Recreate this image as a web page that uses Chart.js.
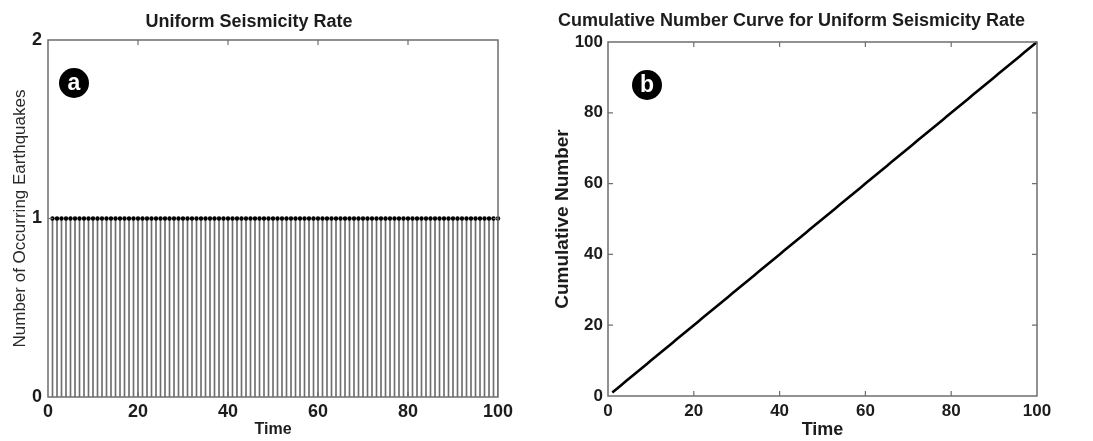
<!DOCTYPE html>
<html>
<head>
<meta charset="utf-8">
<script src="https://cdn.jsdelivr.net/npm/chart.js@4/dist/chart.umd.min.js"></script>
<style>
html,body{margin:0;padding:0;background:#fff;}
#wrap{position:relative;width:1093px;height:441px;overflow:hidden;background:#fff;}
canvas{position:absolute;top:0;}
#c1{left:0;}
#c2{left:546px;}
.badge{position:absolute;width:30px;height:30px;border-radius:50%;background:#000;color:#fff;font:bold 23px "Liberation Sans",Arial,sans-serif;text-align:center;line-height:29px;}
</style>
</head>
<body>
<div id="wrap">
<canvas id="c1" width="546" height="441"></canvas>
<canvas id="c2" width="547" height="441"></canvas>
<div class="badge" style="left:59px;top:68px;">a</div>
<div class="badge" style="left:632px;top:70px;">b</div>
</div>
<script>
// ---- data ----
const timeSteps = [1,2,3,4,5,6,7,8,9,10,11,12,13,14,15,16,17,18,19,20,21,22,23,24,25,26,27,28,29,30,31,32,33,34,35,36,37,38,39,40,41,42,43,44,45,46,47,48,49,50,51,52,53,54,55,56,57,58,59,60,61,62,63,64,65,66,67,68,69,70,71,72,73,74,75,76,77,78,79,80,81,82,83,84,85,86,87,88,89,90,91,92,93,94,95,96,97,98,99,100];
const quakeCounts = [1,1,1,1,1,1,1,1,1,1,1,1,1,1,1,1,1,1,1,1,1,1,1,1,1,1,1,1,1,1,1,1,1,1,1,1,1,1,1,1,1,1,1,1,1,1,1,1,1,1,1,1,1,1,1,1,1,1,1,1,1,1,1,1,1,1,1,1,1,1,1,1,1,1,1,1,1,1,1,1,1,1,1,1,1,1,1,1,1,1,1,1,1,1,1,1,1,1,1,1];
const cumulativeCounts = [1,2,3,4,5,6,7,8,9,10,11,12,13,14,15,16,17,18,19,20,21,22,23,24,25,26,27,28,29,30,31,32,33,34,35,36,37,38,39,40,41,42,43,44,45,46,47,48,49,50,51,52,53,54,55,56,57,58,59,60,61,62,63,64,65,66,67,68,69,70,71,72,73,74,75,76,77,78,79,80,81,82,83,84,85,86,87,88,89,90,91,92,93,94,95,96,97,98,99,100];
const timeTicks = [0,20,40,60,80,100];
const rateTicks = [0,1,2];
const cumTicks = [0,20,40,60,80,100];

const FONT = '"Liberation Sans", Arial, sans-serif';
const TXT = '#1c1c1c';

const framePlugin = {
  id: 'frame',
  afterDatasetsDraw(chart) {
    const {ctx, chartArea: a, scales: {x, y}} = chart;
    ctx.save();
    ctx.strokeStyle = '#6e6e6e';
    ctx.lineWidth = 1.5;
    ctx.strokeRect(a.left, a.top, a.right - a.left, a.bottom - a.top);
    ctx.lineWidth = 1.2;
    const L = 5;
    ctx.beginPath();
    x.ticks.forEach(t => {
      const px = x.getPixelForValue(t.value);
      if (px <= a.left + 1 || px >= a.right - 1) return;
      ctx.moveTo(px, a.bottom); ctx.lineTo(px, a.bottom - L);
      ctx.moveTo(px, a.top); ctx.lineTo(px, a.top + L);
    });
    y.ticks.forEach(t => {
      const py = y.getPixelForValue(t.value);
      if (py <= a.top + 1 || py >= a.bottom - 1) return;
      ctx.moveTo(a.left, py); ctx.lineTo(a.left + L, py);
      ctx.moveTo(a.right, py); ctx.lineTo(a.right - L, py);
    });
    ctx.stroke();
    ctx.restore();
  }
};

function tickSetter(arr) { return s => { s.ticks = arr.map(v => ({value: v})); }; }

// ---- chart a ----
new Chart(document.getElementById('c1'), {
  type: 'bar',
  data: {
    datasets: [
      {
        type: 'line',
        data: timeSteps.map((t, i) => ({x: t, y: quakeCounts[i]})),
        showLine: false,
        pointRadius: 2.2,
        pointBackgroundColor: '#000',
        pointBorderColor: '#000',
        pointBorderWidth: 0,
        clip: false,
        order: 0
      },
      {
        type: 'bar',
        data: timeSteps.map((t, i) => ({x: t, y: quakeCounts[i]})),
        backgroundColor: '#6f6f6f',
        barThickness: 1,
        borderWidth: 0,
        order: 1
      }
    ]
  },
  options: {
    responsive: false,
    animation: false,
    layout: {padding: {top: 0, right: 48, bottom: 0, left: 0}},
    plugins: {
      legend: {display: false},
      tooltip: {enabled: false},
      title: {
        display: true,
        text: 'Uniform Seismicity Rate',
        color: TXT,
        font: {family: FONT, size: 18, weight: 'bold'},
        padding: {top: 11, bottom: 7.4}
      }
    },
    scales: {
      x: {
        type: 'linear', min: 0, max: 100, offset: false,
        afterBuildTicks: tickSetter(timeTicks),
        afterFit: s => { s.height = 44; },
        grid: {display: false, drawTicks: false, offset: false},
        border: {display: false},
        ticks: {color: TXT, font: {family: FONT, size: 18, weight: 'bold'}, padding: 4, maxRotation: 0, autoSkip: false},
        title: {display: true, text: 'Time', color: TXT, font: {family: FONT, size: 16, weight: 'bold'}, padding: {top: 0, bottom: 2}}
      },
      y: {
        type: 'linear', min: 0, max: 2,
        afterBuildTicks: tickSetter(rateTicks),
        afterFit: s => { s.width = 48; },
        grid: {display: false, drawTicks: false},
        border: {display: false},
        ticks: {color: TXT, font: {family: FONT, size: 18, weight: 'bold'}, padding: 6},
        title: {display: true, text: 'Number of Occurring Earthquakes', color: '#2a2a2a', font: {family: FONT, size: 17, weight: 'normal'}, padding: {top: 10, bottom: 0}}
      }
    }
  },
  plugins: [framePlugin]
});

// ---- chart b ----
new Chart(document.getElementById('c2'), {
  type: 'line',
  data: {
    datasets: [{
      data: timeSteps.map((t, i) => ({x: t, y: cumulativeCounts[i]})),
      borderColor: '#000',
      borderWidth: 2.6,
      pointRadius: 0,
      tension: 0,
      clip: false
    }]
  },
  options: {
    responsive: false,
    animation: false,
    layout: {padding: {top: 0, right: 56, bottom: 0, left: 0}},
    plugins: {
      legend: {display: false},
      tooltip: {enabled: false},
      title: {
        display: true,
        text: 'Cumulative Number Curve for Uniform Seismicity Rate',
        color: TXT,
        font: {family: FONT, size: 18, weight: 'bold'},
        padding: {top: 10, bottom: 10.4}
      }
    },
    scales: {
      x: {
        type: 'linear', min: 0, max: 100,
        afterBuildTicks: tickSetter(timeTicks),
        afterFit: s => { s.height = 45; },
        grid: {display: false, drawTicks: false},
        border: {display: false},
        ticks: {color: TXT, font: {family: FONT, size: 17, weight: 'bold'}, padding: 5, maxRotation: 0, autoSkip: false},
        title: {display: true, text: 'Time', color: TXT, font: {family: FONT, size: 18, weight: 'bold'}, padding: {top: 0, bottom: 0}}
      },
      y: {
        type: 'linear', min: 0, max: 100,
        afterBuildTicks: tickSetter(cumTicks),
        afterFit: s => { s.width = 62; },
        grid: {display: false, drawTicks: false},
        border: {display: false},
        ticks: {color: TXT, font: {family: FONT, size: 17, weight: 'bold'}, padding: 5},
        title: {display: true, text: 'Cumulative Number', color: TXT, font: {family: FONT, size: 19, weight: 'bold'}, padding: {top: 5.6, bottom: 0}}
      }
    }
  },
  plugins: [framePlugin]
});
</script>
</body>
</html>
